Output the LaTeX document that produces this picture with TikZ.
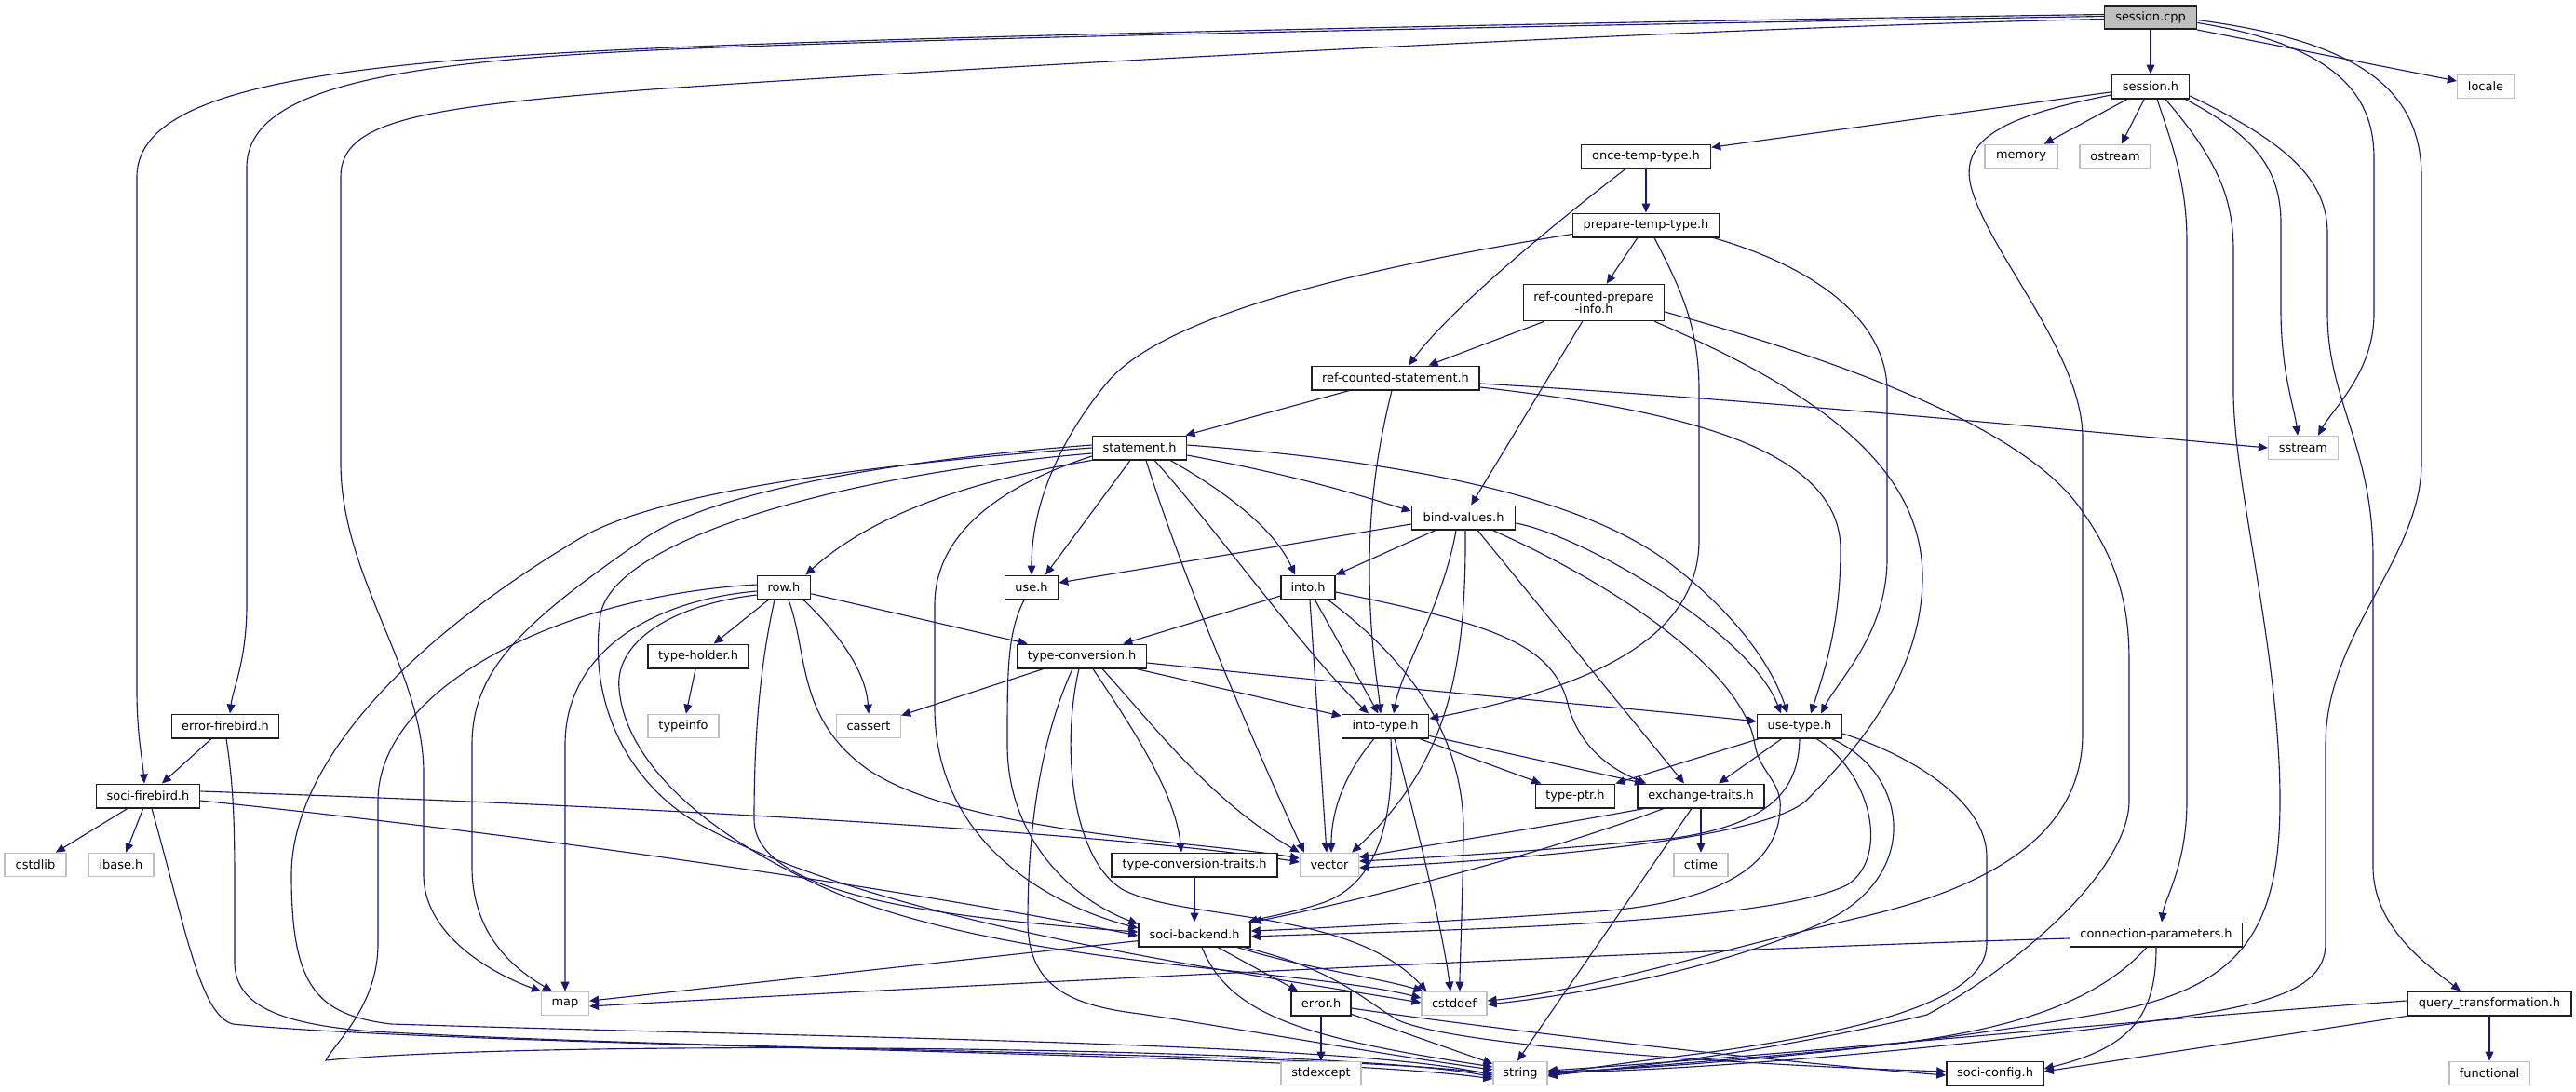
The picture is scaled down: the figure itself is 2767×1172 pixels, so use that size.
\documentclass[tikz,border=0pt]{standalone}
\usepackage{fontspec}
\setmainfont{DejaVu Sans}
\usetikzlibrary{arrows.meta,calc}
\definecolor{mblue}{HTML}{191970}
\pgfdeclarelayer{background}
\pgfsetlayers{background,main}
\begin{document}
\begin{tikzpicture}[x=0.75pt,y=-0.75pt,
  hb/.style={draw=black!88,line width=1.15pt,fill=white,minimum height=19.1pt,inner sep=0pt,font=\fontsize{9.7}{10}\selectfont},
  xb/.style={draw=black!25,line width=0.9pt,fill=white,minimum height=19.1pt,inner sep=0pt,font=\fontsize{9.7}{10}\selectfont},
  bw/.style={minimum width=#1*0.75pt},
  dep/.style={draw=mblue,line width=0.85pt,-{Triangle[length=7.5pt,width=6.6pt]}}]
\useasboundingbox (0,0) rectangle (2767,1172);
% nodes
\node[hb,bw=99,fill=black!25] (scpp) at (2310,18.5) {session.cpp};
\node[hb,bw=83] (sh) at (2310,93) {session.h};
\node[xb,bw=61] (locale) at (2670,93) {locale};
\node[xb,bw=78] (memory) at (2171,168) {memory};
\node[xb,bw=76] (ostream) at (2272,168) {ostream};
\node[hb,bw=139] (ott) at (1768,168) {once-temp-type.h};
\node[hb,bw=157] (ptt) at (1768,242) {prepare-temp-type.h};
\node[hb,bw=151,minimum height=29.3pt,align=center,font=\fontsize{9.7}{9.9}\selectfont] (rcpi) at (1712,325) {ref-counted-prepare\\-info.h};
\node[hb,bw=180] (rcs) at (1499,406) {ref-counted-statement.h};
\node[xb,bw=75] (sstream) at (2474,481) {sstream};
\node[hb,bw=101] (st) at (1224,481) {statement.h};
\node[hb,bw=111] (bv) at (1572,556) {bind-values.h};
\node[hb,bw=57] (row) at (842,631) {row.h};
\node[hb,bw=57] (use) at (1108,631) {use.h};
\node[hb,bw=58] (into) at (1405,631) {into.h};
\node[hb,bw=108] (th) at (750,705) {type-holder.h};
\node[hb,bw=139] (tc) at (1162,705) {type-conversion.h};
\node[hb,bw=115] (ef) at (242,780) {error-firebird.h};
\node[xb,bw=76] (typeinfo) at (734,780) {typeinfo};
\node[xb,bw=69] (cassert) at (933,780) {cassert};
\node[hb,bw=93] (it) at (1488,780) {into-type.h};
\node[hb,bw=91] (ut) at (1933,780) {use-type.h};
\node[hb,bw=111] (sf) at (159,855) {soci-firebird.h};
\node[hb,bw=85] (tp) at (1692,855) {type-ptr.h};
\node[hb,bw=136] (et) at (1827,855) {exchange-traits.h};
\node[xb,bw=66] (cstdlib) at (38,929) {cstdlib};
\node[xb,bw=70] (ibase) at (130,929) {ibase.h};
\node[hb,bw=178] (tct) at (1283,929) {type-conversion-traits.h};
\node[xb,bw=63] (vector) at (1428,929) {vector};
\node[xb,bw=58] (ctime) at (1827,929) {ctime};
\node[hb,bw=120] (sb) at (1283,1004) {soci-backend.h};
\node[hb,bw=185] (cp) at (2316,1004) {connection-parameters.h};
\node[xb,bw=51] (map) at (607,1078) {map};
\node[hb,bw=64] (err) at (1419,1078) {error.h};
\node[xb,bw=70] (cstddef) at (1562,1078) {cstddef};
\node[hb,bw=176] (qt) at (2674,1078) {query\_transformation.h};
\node[xb,bw=86] (stdexcept) at (1419,1153) {stdexcept};
\node[xb,bw=58] (string) at (1633,1153) {string};
\node[hb,bw=104] (sc) at (2143,1153) {soci-config.h};
\node[xb,bw=86] (functional) at (2674,1153) {functional};
\begin{pgfonlayer}{background}
\fill[white] (0,0) rectangle (2767,1172);
% session.cpp
\draw[dep] (scpp) -- (sh);
\draw[dep] (scpp.south east) -- ($(locale.west)+(0,-6)$);
\draw[dep] ($(scpp.east)+(0,6)$) .. controls (2520,50) and (2550,110) .. (2550,170) -- (2550,337) .. controls (2550,400) and (2505,440) .. ($(sstream.north)+(16,0)$);
\draw[dep] ($(scpp.east)+(0,3)$) .. controls (2540,45) and (2601,100) .. (2601,190) -- (2601,497) .. controls (2601,600) and (2498,680) .. (2498,800) -- (2498,1014) .. controls (2498,1075) and (2400,1085) .. (2250,1105) .. controls (2000,1135) and (1800,1150) .. ($(string.east)+(0,-1)$);
\draw[dep] ($(scpp.west)+(0,2)$) .. controls (1800,30) and (1000,75) .. (700,96) .. controls (450,115) and (366,130) .. (366,190) -- (366,497) .. controls (366,620) and (455,720) .. (455,830) -- (455,939) .. controls (455,1010) and (540,1050) .. (map.north west);
\draw[dep] ($(scpp.west)+(0,-1)$) .. controls (1800,25) and (1000,40) .. (700,54) .. controls (400,68) and (265,100) .. (265,180) -- (265,650) .. controls (265,710) and (250,740) .. ($(ef.north)+(5,0)$);
\draw[dep] ($(scpp.west)+(0,-3)$) .. controls (1800,22) and (1000,38) .. (700,52) .. controls (330,68) and (147,100) .. (147,190) -- (147,740) .. controls (147,790) and (153,815) .. ($(sf.north)+(-4,0)$);
% session.h
\draw[dep] (sh) -- (memory);
\draw[dep] (sh) -- (ostream);
\draw[dep] (sh) -- (ott);
\draw[dep] ($(sh.south east)+(-5,0)$) .. controls (2420,145) and (2450,180) .. (2450,240) -- (2450,333) .. controls (2450,400) and (2465,440) .. ($(sstream.north)+(-6,0)$);
\draw[dep] ($(sh.south)+(16,0)$) .. controls (2380,170) and (2399,210) .. (2399,270) -- (2399,421) .. controls (2399,520) and (2449,700) .. (2449,860) .. controls (2449,1010) and (2400,1065) .. (2250,1090) .. controls (2050,1125) and (1800,1148) .. ($(string.east)+(0,-2)$);
\draw[dep] ($(sh.south)+(7,0)$) .. controls (2335,160) and (2349,200) .. (2349,260) -- (2349,860) .. controls (2349,930) and (2325,965) .. ($(cp.north)+(6,0)$);
\draw[dep] ($(sh.east)+(0,10)$) .. controls (2450,150) and (2500,190) .. (2500,250) -- (2500,337) .. controls (2500,430) and (2549,480) .. (2549,600) -- (2549,931) .. controls (2549,995) and (2605,1035) .. ($(qt.north)+(-31,0)$);
\draw[dep] ($(sh.west)+(0,9)$) .. controls (2150,125) and (2105,150) .. (2117,200) .. controls (2135,270) and (2237,380) .. (2237,470) -- (2237,788) .. controls (2237,890) and (2150,950) .. (2000,985) .. controls (1850,1020) and (1700,1065) .. ($(cstddef.east)+(0,-3)$);
% once-temp-type.h
\draw[dep] (ott) -- (ptt);
\draw[dep] ($(ott.south)+(-22,0)$) .. controls (1670,240) and (1560,330) .. ($(rcs.north)+(14,0)$);
% prepare-temp-type.h
\draw[dep] (ptt) -- (rcpi);
\draw[dep] ($(ptt.south west)+(0,-4)$) .. controls (1450,290) and (1250,340) .. (1190,410) .. controls (1140,470) and (1108,540) .. (use.north);
\draw[dep] ($(ptt.south)+(9,0)$) .. controls (1805,310) and (1825,350) .. (1825,420) -- (1825,580) .. controls (1825,690) and (1700,740) .. ($(it.east)+(0,-8)$);
\draw[dep] ($(ptt.south east)+(-7,0)$) .. controls (1960,290) and (2027,350) .. (2027,420) -- (2027,600) .. controls (2027,680) and (1975,730) .. ($(ut.north)+(23,0)$);
% ref-counted-prepare-info.h
\draw[dep] (rcpi) -- (rcs);
\draw[dep] (rcpi) -- (bv);
\draw[dep] ($(rcpi.south east)+(-11,0)$) .. controls (1950,420) and (2065,500) .. (2065,620) .. controls (2065,720) and (2000,800) .. (1940,860) .. controls (1890,905) and (1600,925) .. ($(vector.east)+(0,3)$);
\draw[dep] ($(rcpi.east)+(0,10)$) .. controls (1950,380) and (2160,450) .. (2230,540) .. controls (2275,600) and (2287,650) .. (2287,710) -- (2287,860) .. controls (2287,930) and (2180,1030) .. (2070,1090) .. controls (1900,1130) and (1750,1148) .. ($(string.east)+(0,1)$);
% ref-counted-statement.h
\draw[dep] (rcs) -- (st);
\draw[dep] ($(rcs.south)+(-4,0)$) .. controls (1480,480) and (1471,540) .. (1471,610) .. controls (1471,690) and (1480,735) .. ($(it.north)+(-5,0)$);
\draw[dep] ($(rcs.east)+(0,6)$) .. controls (1900,430) and (2200,460) .. (sstream.west);
\draw[dep] ($(rcs.east)+(0,10)$) .. controls (1800,440) and (1977,480) .. (1977,590) .. controls (1977,670) and (1960,720) .. ($(ut.north)+(12,0)$);
% statement.h
\draw[dep] (st.south west) .. controls (1050,515) and (940,550) .. ($(row.north east)+(-6,0)$);
\draw[dep] ($(st.south)+(-10,0)$) -- ($(use.north)+(15,0)$);
\draw[dep] ($(st.south)+(33,0)$) .. controls (1320,530) and (1370,570) .. ($(into.north)+(-14,0)$);
\draw[dep] ($(st.east)+(0,8)$) .. controls (1400,512) and (1470,535) .. ($(bv.west)+(0,-7)$);
\draw[dep] ($(st.south)+(16,0)$) .. controls (1300,560) and (1400,700) .. ($(it.north)+(-18,0)$);
\draw[dep] ($(st.east)+(0,-3)$) .. controls (1500,495) and (1700,530) .. (1800,610) .. controls (1870,665) and (1905,720) .. ($(ut.north)+(-13,0)$);
\draw[dep] ($(st.south)+(7,0)$) .. controls (1280,650) and (1370,850) .. ($(vector.north west)+(5,0)$);
\draw[dep] ($(st.west)+(0,9)$) .. controls (1080,520) and (1004,570) .. (1004,650) -- (1004,760) .. controls (1004,900) and (1120,970) .. ($(sb.west)+(0,-7)$);
\draw[dep] ($(st.west)+(0,-3)$) .. controls (950,495) and (760,530) .. (690,580) .. controls (560,670) and (507,720) .. (507,800) -- (507,931) .. controls (507,1010) and (560,1045) .. ($(map.north)+(-14,0)$);
\draw[dep] (st.west) .. controls (920,500) and (700,530) .. (620,580) .. controls (420,700) and (313,830) .. (313,940) .. controls (313,1060) and (340,1090) .. (420,1100) .. controls (900,1115) and (1450,1120) .. ($(string.west)+(0,2)$);
\draw[dep] ($(st.west)+(0,6)$) .. controls (900,510) and (660,580) .. (645,660) .. controls (630,760) and (680,850) .. (760,890) .. controls (950,990) and (1300,1040) .. ($(cstddef.west)+(0,-1)$);
% bind-values.h
\draw[dep] ($(bv.west)+(0,7)$) -- ($(use.east)+(0,-5)$);
\draw[dep] (bv) -- (into);
\draw[dep] ($(bv.south)+(-8,0)$) .. controls (1550,650) and (1505,720) .. ($(it.north)+(9,0)$);
\draw[dep] ($(bv.south)+(2,0)$) .. controls (1575,720) and (1555,820) .. ($(vector.north east)+(-8,0)$);
\draw[dep] ($(bv.south)+(15,0)$) -- ($(et.north)+(-18,0)$);
\draw[dep] ($(bv.east)+(0,6)$) .. controls (1700,575) and (1880,680) .. ($(ut.north)+(-20,0)$);
\draw[dep] ($(bv.south east)+(-25,0)$) .. controls (1760,640) and (1875,730) .. (1885,800) .. controls (1890,830) and (1915,840) .. (1912,870) .. controls (1908,950) and (1800,975) .. (1700,980) .. controls (1550,990) and (1400,998) .. ($(sb.east)+(0,-4)$);
% row.h
\draw[dep] (row) -- (th);
\draw[dep] (row) -- (tc);
\draw[dep] ($(row.south east)+(-8,0)$) .. controls (900,680) and (930,720) .. (cassert.north);
\draw[dep] ($(row.south)+(5,0)$) .. controls (868,700) and (855,770) .. (930,825) .. controls (1030,895) and (1300,905) .. ($(vector.west)+(0,-7)$);
\draw[dep] ($(row.south)+(-10,0)$) .. controls (815,720) and (810,800) .. (810,880) .. controls (810,960) and (1000,985) .. ($(sb.west)+(0,-3)$);
\draw[dep] ($(row.west)+(0,8)$) .. controls (720,650) and (660,690) .. (665,740) .. controls (672,820) and (760,900) .. (900,960) .. controls (1100,1040) and (1400,1040) .. ($(cstddef.west)+(0,-6)$);
\draw[dep] ($(row.west)+(0,4)$) .. controls (700,645) and (607,700) .. (607,800) -- (map.north);
\draw[dep] ($(row.west)+(0,-3)$) .. controls (600,640) and (406,740) .. (406,860) -- (406,1014) .. controls (406,1080) and (360,1120) .. (350,1139) .. controls (600,1115) and (1450,1125) .. ($(string.west)+(0,4)$);
% use.h
\draw[dep] ($(use.south)+(-8,0)$) .. controls (1082,680) and (1082,720) .. (1082,800) .. controls (1082,900) and (1150,965) .. ($(sb.north west)+(0,2)$);
% into.h
\draw[dep] (into) -- (tc);
\draw[dep] ($(into.south)+(2,0)$) -- ($(vector.north)+(-3,0)$);
\draw[dep] (into) -- (it);
\draw[dep] ($(into.south east)+(-8,0)$) .. controls (1500,700) and (1575,780) .. (1572,900) .. controls (1570,1000) and (1568,1040) .. ($(cstddef.north)+(6,0)$);
\draw[dep] ($(into.east)+(0,5)$) .. controls (1600,670) and (1670,690) .. (1685,760) .. controls (1700,810) and (1740,830) .. ($(et.north west)+(10,0)$);
% type-holder.h
\draw[dep] (th) -- (typeinfo);
% type-conversion.h
\draw[dep] (tc) -- (cassert);
\draw[dep] (tc) -- (it);
\draw[dep] ($(tc.east)+(0,7)$) .. controls (1500,740) and (1800,765) .. ($(ut.west)+(0,-5)$);
\draw[dep] ($(tc.south)+(12,0)$) .. controls (1215,780) and (1262,850) .. ($(tct.north)+(-14,0)$);
\draw[dep] ($(tc.south)+(22,0)$) .. controls (1240,780) and (1300,860) .. (vector.north west);
\draw[dep] ($(tc.south)+(-10,0)$) .. controls (1115,800) and (1104,900) .. (1104,990) .. controls (1104,1060) and (1150,1080) .. (1224,1089) .. controls (1300,1100) and (1500,1135) .. ($(string.west)+(0,-4)$);
\draw[dep] ($(tc.south)+(-3,0)$) .. controls (1140,800) and (1150,920) .. (1205,955) .. controls (1270,990) and (1450,975) .. ($(cstddef.north west)+(6,0)$);
% into-type.h
\draw[dep] (it) -- (tp);
\draw[dep] (it) -- (et);
\draw[dep] ($(it.south)+(-12,0)$) .. controls (1445,830) and (1430,870) .. ($(vector.north)+(2,0)$);
\draw[dep] ($(it.south)+(6,0)$) .. controls (1498,880) and (1480,950) .. (1420,970) .. controls (1390,980) and (1360,985) .. ($(sb.north east)+(-3,0)$);
\draw[dep] ($(it.south)+(10,0)$) .. controls (1520,880) and (1550,1000) .. ($(cstddef.north)+(-4,0)$);
% use-type.h
\draw[dep] (ut) -- (tp);
\draw[dep] (ut) -- (et);
\draw[dep] (ut.south) .. controls (1932,850) and (1900,885) .. (1800,900) .. controls (1650,915) and (1520,922) .. ($(vector.east)+(0,-4)$);
\draw[dep] ($(ut.south)+(18,0)$) .. controls (2010,830) and (2030,920) .. (1985,950) .. controls (1900,995) and (1500,1000) .. ($(sb.east)+(0,2)$);
\draw[dep] ($(ut.south east)+(-12,0)$) .. controls (2050,830) and (2065,940) .. (1960,990) .. controls (1850,1040) and (1700,1068) .. ($(cstddef.east)+(0,1)$);
\draw[dep] ($(ut.east)+(0,8)$) .. controls (2050,810) and (2134,860) .. (2134,920) -- (2134,1014) .. controls (2134,1075) and (2000,1110) .. (1800,1135) .. controls (1720,1145) and (1690,1150) .. ($(string.east)+(0,2)$);
% exchange-traits.h
\draw[dep] (et) -- (ctime);
\draw[dep] ($(et.south west)+(8,0)$) .. controls (1650,890) and (1520,910) .. ($(vector.east)+(0,-8)$);
\draw[dep] ($(et.south)+(-40,0)$) .. controls (1650,920) and (1450,970) .. ($(sb.north east)+(1,0)$);
\draw[dep] ($(et.south)+(-10,0)$) -- ($(string.north)+(-3,0)$);
% type-conversion-traits.h
\draw[dep] (tct) -- (sb);
% soci-firebird.h / error-firebird.h
\draw[dep] (sf) -- (cstdlib);
\draw[dep] (sf) -- (ibase);
\draw[dep] ($(sf.east)+(0,-5)$) .. controls (700,866) and (1200,895) .. ($(vector.west)+(0,-3)$);
\draw[dep] ($(sf.east)+(0,5)$) .. controls (600,900) and (1000,960) .. ($(sb.west)+(0,1)$);
\draw[dep] ($(sf.south)+(4,0)$) .. controls (200,1000) and (215,1090) .. (250,1100) .. controls (500,1125) and (1400,1130) .. ($(string.west)+(0,6)$);
\draw[dep] (ef) -- (sf);
\draw[dep] ($(ef.south)+(1,0)$) .. controls (252,850) and (252,900) .. (252,960) -- (252,1033) .. controls (252,1080) and (300,1100) .. (400,1108) .. controls (800,1130) and (1400,1130) .. (string.west);
% soci-backend.h
\draw[dep] (sb) -- (map);
\draw[dep] (sb) -- (err);
\draw[dep] ($(sb.south east)+(-15,0)$) .. controls (1400,1040) and (1480,1050) .. ($(cstddef.north west)+(2,0)$);
\draw[dep] ($(sb.south)+(8,0)$) .. controls (1320,1090) and (1400,1115) .. ($(string.west)+(0,-7)$);
\draw[dep] ($(sb.south east)+(-8,0)$) .. controls (1430,1040) and (1460,1070) .. (1500,1095) .. controls (1560,1125) and (1900,1145) .. ($(sc.west)+(0,-2)$);
% error.h
\draw[dep] (err) -- (stdexcept);
\draw[dep] (err) -- (string);
\draw[dep] ($(err.east)+(0,5)$) .. controls (1600,1105) and (1900,1140) .. ($(sc.west)+(0,2)$);
% connection-parameters.h
\draw[dep] ($(cp.west)+(0,4)$) .. controls (1800,1020) and (1000,1060) .. ($(map.east)+(0,3)$);
\draw[dep] ($(cp.south)+(-10,0)$) .. controls (2250,1080) and (2150,1110) .. (2000,1125) .. controls (1850,1140) and (1720,1148) .. ($(string.east)+(0,3)$);
\draw[dep] (cp.south) .. controls (2316,1090) and (2290,1125) .. ($(sc.east)+(0,-5)$);
% query_transformation.h
\draw[dep] ($(qt.west)+(0,-3)$) .. controls (2300,1095) and (1900,1135) .. ($(string.east)+(0,-3)$);
\draw[dep] (qt.south west) -- ($(sc.east)+(0,-2)$);
\draw[dep] (qt) -- (functional);
\end{pgfonlayer}
\end{tikzpicture}
\end{document}
